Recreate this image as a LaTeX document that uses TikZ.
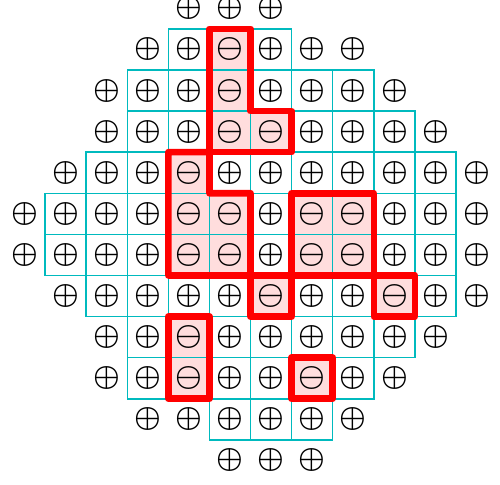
\documentclass[tikz,border=0pt]{standalone}
\usepackage{xcolor}
\usepackage{tikz}
\definecolor{gridcyan}{RGB}{0,186,190}
\definecolor{negpink}{RGB}{255,221,221}
\definecolor{regionred}{RGB}{255,0,0}

\begin{document}
\begin{tikzpicture}[
    x=1cm, y=1cm,
    cell/.style={
        rectangle,
        draw=gridcyan,
        line width=1pt,
        minimum size=1cm,
        inner sep=0pt,
        outer sep=0pt
    },
    negcell/.style={cell, fill=negpink},
    charge/.style={font=\fontsize{22}{22}\selectfont\boldmath, inner sep=0pt},
    region/.style={draw=regionred, line width=4.6pt, line join=round}
]
\useasboundingbox (-0.596,0.202) rectangle (11.569,-11.574);

% lattice cells
\foreach \r/\lo/\hi in {1/4/6, 2/3/8, 3/3/9, 4/2/10, 5/1/10, 6/1/10, 7/2/10, 8/3/9, 9/3/8, 10/5/7}
    \foreach \c in {\lo,...,\hi}
        \node[cell] (cell-\r-\c) at (\c,-\r) {};

\foreach \r/\c in {1/5, 2/5, 3/5, 3/6, 4/4, 5/4, 5/5, 5/7, 5/8, 6/4, 6/5, 6/7, 6/8, 7/6, 7/9, 8/4, 9/4, 9/7}
    \node[negcell] (neg-\r-\c) at (\c,-\r) {};

% charges, row by row (p = plus, m = minus)
\foreach \r/\lo/\signs in {
    0/4/{p,p,p},
    1/3/{p,p,m,p,p,p},
    2/2/{p,p,p,m,p,p,p,p},
    3/2/{p,p,p,m,m,p,p,p,p},
    4/1/{p,p,p,m,p,p,p,p,p,p,p},
    5/0/{p,p,p,p,m,m,p,m,m,p,p,p},
    6/0/{p,p,p,p,m,m,p,m,m,p,p,p},
    7/1/{p,p,p,p,p,m,p,p,m,p,p},
    8/2/{p,p,m,p,p,p,p,p,p},
    9/2/{p,p,m,p,p,m,p,p},
    10/3/{p,p,p,p,p,p},
    11/5/{p,p,p}}
    \foreach \s [count=\c from \lo] in \signs
        \node[charge] (q-\r-\c) at (\c,-\r) {\if\s p$\oplus$\else$\ominus$\fi};

% negative clusters
\draw[region] (cell-1-5.north west) -- (cell-1-5.north east) -- (cell-3-5.north east)
    -- (cell-3-6.north east) -- (cell-3-6.south east) -- (cell-3-5.south west) -- cycle;
\draw[region] (cell-4-4.north west) -- (cell-4-4.north east) -- (cell-5-5.north west)
    -- (cell-5-5.north east) -- (cell-6-5.south east) -- (cell-6-4.south west) -- cycle;
\draw[region] (cell-5-7.north west) rectangle (cell-6-8.south east);
\draw[region] (cell-7-6.north west) rectangle (cell-7-6.south east);
\draw[region] (cell-7-9.north west) rectangle (cell-7-9.south east);
\draw[region] (cell-8-4.north west) rectangle (cell-9-4.south east);
\draw[region] (cell-9-7.north west) rectangle (cell-9-7.south east);

\end{tikzpicture}
\end{document}
